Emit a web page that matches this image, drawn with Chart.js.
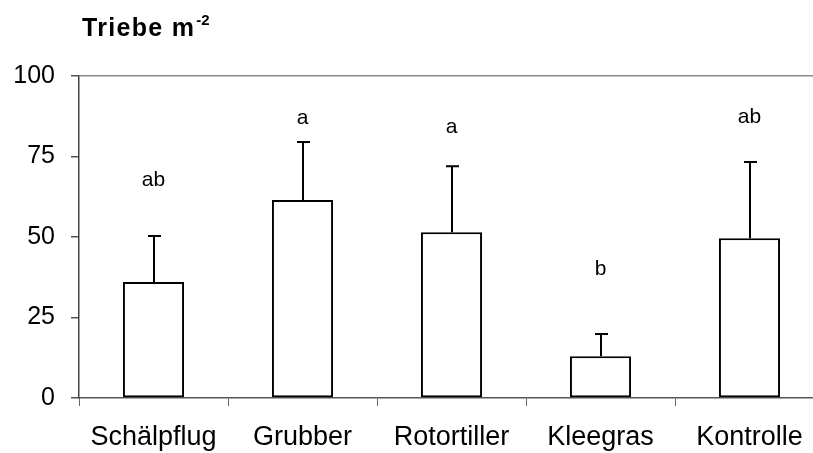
<!DOCTYPE html>
<html>
<head>
<meta charset="utf-8">
<script src="https://cdn.jsdelivr.net/npm/chart.js@4"></script>
<style>
  html, body { margin: 0; padding: 0; background: #fff; overflow: hidden; width: 813px; height: 453px; }
  #wrap { width: 813px; height: 453px; overflow: hidden; position: relative; }
  #c { position: absolute; left: 0; top: 0; }
</style>
</head>
<body>
<div id="wrap"><canvas id="c" width="830" height="453"></canvas></div>
<script>
// ---- data ----
const categories = ['Schälpflug', 'Grubber', 'Rotortiller', 'Kleegras', 'Kontrolle'];
const means = [36, 61.5, 51.5, 13, 49.6];
const errTop = [50.3, 79.5, 72, 19.9, 73.3];
const letters = ['ab', 'a', 'a', 'b', 'ab'];
const letterY = [67.7, 87, 84.2, 40, 87.3];
const yTicks = [0, 25, 50, 75, 100];
const titleMain = 'Triebe m';
const titleSup = '-2';

const FONT = "'Liberation Sans', Arial, sans-serif";

const errorBars = {
  id: 'errorBars',
  afterDatasetsDraw(chart) {
    const ctx = chart.ctx;
    const y = chart.scales.y;
    const meta = chart.getDatasetMeta(0);
    ctx.save();
    ctx.strokeStyle = '#000';
    ctx.lineWidth = 2;
    meta.data.forEach((bar, i) => {
      const x = Math.round(bar.x);
      const y0 = y.getPixelForValue(means[i]);
      const y1 = y.getPixelForValue(errTop[i]);
      ctx.beginPath();
      ctx.moveTo(x, y0);
      ctx.lineTo(x, y1);
      ctx.moveTo(x - 6, y1);
      ctx.lineTo(x + 7, y1);
      ctx.stroke();
    });
    ctx.fillStyle = '#000';
    ctx.font = '21px ' + FONT;
    ctx.textAlign = 'center';
    ctx.textBaseline = 'middle';
    meta.data.forEach((bar, i) => {
      ctx.fillText(letters[i], bar.x, y.getPixelForValue(letterY[i]));
    });
    ctx.restore();
  },
  afterDraw(chart) {
    const ctx = chart.ctx;
    ctx.save();
    ctx.fillStyle = '#000';
    ctx.textAlign = 'left';
    ctx.textBaseline = 'alphabetic';
    ctx.font = 'bold 25px ' + FONT;
    try { ctx.letterSpacing = '1.3px'; } catch (e) {}
    ctx.fillText(titleMain, 82, 36);
    const w = ctx.measureText(titleMain).width;
    ctx.font = 'bold 15px ' + FONT;
    try { ctx.letterSpacing = '0px'; } catch (e) {}
    ctx.fillText(titleSup, 82 + w + 1, 25);
    ctx.restore();
  }
};

new Chart(document.getElementById('c'), {
  type: 'bar',
  data: {
    labels: categories,
    datasets: [{
      data: means,
      backgroundColor: '#ffffff',
      borderColor: '#000000',
      borderWidth: 2,
      borderSkipped: false,
      categoryPercentage: 1,
      barPercentage: 0.41
    }]
  },
  options: {
    responsive: false,
    animation: false,
    devicePixelRatio: 1,
    layout: { padding: { top: 76, right: 6, left: 0, bottom: 0 } },
    plugins: { legend: { display: false }, tooltip: { enabled: false }, title: { display: false } },
    scales: {
      x: {
        grid: {
          display: true,
          offset: true,
          drawOnChartArea: false,
          tickLength: 8,
          tickColor: '#666'
        },
        border: { display: true, color: '#555', width: 1.5 },
        ticks: {
          color: '#000',
          font: { family: FONT, size: 27 },
          padding: 15,
          maxRotation: 0
        },
        afterFit(scale) { scale.height = 55; }
      },
      y: {
        min: 0,
        max: 100,
        afterBuildTicks(scale) { scale.ticks = yTicks.map(v => ({ value: v })); },
        grid: {
          drawOnChartArea: true,
          color: (c) => (c.tick && c.tick.value === 100 ? '#8a8a8a' : 'rgba(0,0,0,0)'),
          lineWidth: 1.5,
          tickLength: 8,
          tickColor: '#555'
        },
        border: { display: true, color: '#444', width: 1.5 },
        ticks: {
          color: '#000',
          font: { family: FONT, size: 25 },
          padding: 16
        },
        afterFit(scale) { scale.width = 79; }
      }
    }
  },
  plugins: [errorBars]
});
</script>
</body>
</html>
